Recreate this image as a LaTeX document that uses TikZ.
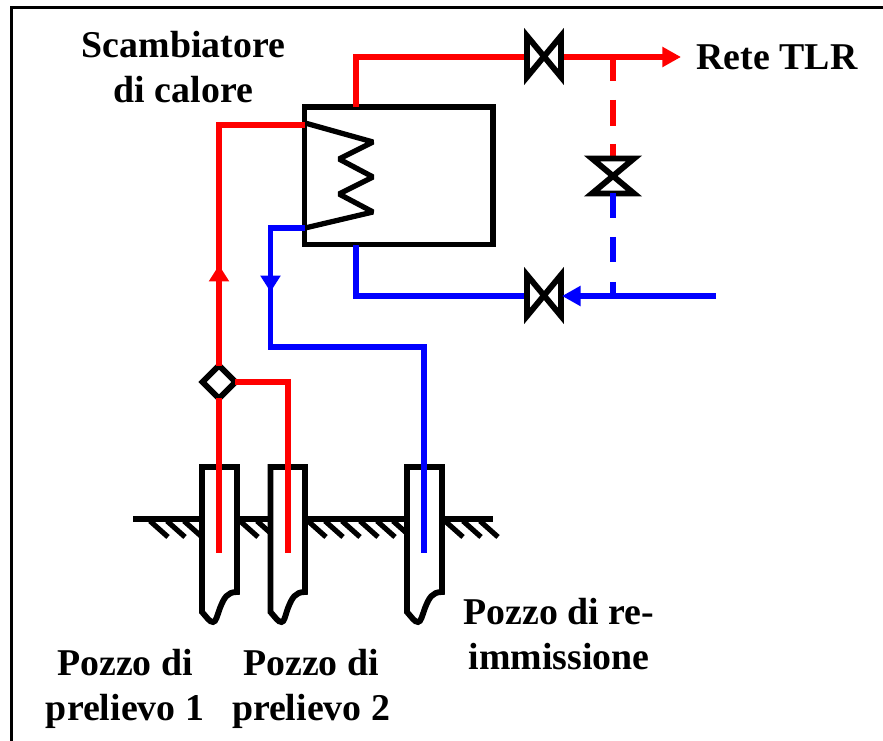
\documentclass[tikz,border=0pt]{standalone}
\usepackage{fontspec}
\setmainfont{Liberation Serif}
\usetikzlibrary{arrows.meta,shapes.geometric}

\begin{document}
\begin{tikzpicture}[
    x=0.03cm, y=-0.03cm,
    % Style for the pipes
    hot/.style={draw=red, line width=5pt, line join=miter},
    cold/.style={draw=blue, line width=5pt, line join=miter},
    % Style for the black outlines
    wall/.style={draw=black, line width=5pt, line join=miter},
    flowtip/.style={-{Triangle[length=#1, width=16.5pt]}},
    lab/.style={font=\bfseries\fontsize{32.3pt}{38.8pt}\selectfont, align=center, inner sep=0pt}
]

\useasboundingbox (0,0) rectangle (883,741);

% Macro to draw a well
\newcommand{\drawwell}[2]{
    \draw[wall, fill=white] (#1,467) -- (#2,467) -- (#2,592) .. controls (#2-10,592) and (#2-13,598) .. (#2-17,608) .. controls (#2-20,616) and (#1+14,622) .. (#1+11,622) .. controls (#1+9,622) and (#1+8,621) .. (#1+6,619) -- (#1,612) -- cycle;
}

% Macro to draw a valve on a horizontal pipe
\newcommand{\drawvalve}[3]{
    \draw[wall, fill=white] (#1,#2) -- (#1,#3) -- (#1+34,#2) -- (#1+34,#3) -- cycle;
}

% Outer frame
\draw[line width=2.6pt] (11.5,741) -- (11.5,7.5) -- (883,7.5);

% Ground
\draw[wall] (133,519) -- (493,519);
\foreach \gx in {150,167,184,240,257,308,325,342,360,377,393,445,463,480}{
    \draw[line width=4.4pt] (\gx,521) -- (\gx+18,537);
}

% Wells
\drawwell{202}{237}
\drawwell{270.5}{305}
\drawwell{407}{442}

% Heat exchanger
\draw[wall] (304.5,107) rectangle (493,244.5);
\draw[wall, line width=4.5pt, line join=bevel] (305,123) -- (373,142) -- (339,159) -- (373,177) -- (339,194) -- (373,212) -- (305,228);

% Named points of the circuit
\coordinate (hotin) at (305,125);
\coordinate (coldout) at (305,228);
\coordinate (hotoutA) at (356,107);
\coordinate (coldinA) at (356,245);
\coordinate (teeA) at (613,57);
\coordinate (teeB) at (613,296);
\coordinate (coldend) at (716,296);
\coordinate (reteend) at (681,57);
\coordinate (vT) at (544,57);
\coordinate (vB) at (544,296);
\coordinate (vM) at (613,176);

% Junction
\node[diamond, draw=black, line width=5pt, fill=white, inner sep=0pt, outer sep=0pt, minimum size=28pt] (junc) at (219,382) {};

% Red circuit
\draw[hot] (219,553) -- (junc);
\draw[hot] (junc) -- (219,125) -- (hotin);
\draw[hot, flowtip=14pt] (219,300) -- (219,265);
\draw[hot] (junc) -- (288,382) -- (288,553);
\draw[hot] (hotoutA) -- (356,57) -- (vT);
\draw[hot, flowtip=16pt] (vT) -- (reteend);
\draw[hot] (teeA) -- (613,81);
\draw[hot] (613,100) -- (613,126);
\draw[hot] (613,144) -- (vM);

% Blue circuit
\draw[cold] (coldout) -- (270.5,228) -- (270.5,347) -- (424,347) -- (424,553);
\draw[cold, flowtip=14pt] (270.5,260) -- (270.5,292);
\draw[cold] (coldinA) -- (356,296) -- (vB);

% Valves
\drawvalve{527}{36}{77}
\drawvalve{527}{275}{316}
\draw[wall, fill=white] (592,158.5) -- (634,158.5) -- (592,193.5) -- (634,193.5) -- cycle;

\draw[cold, flowtip=16pt] (coldend) -- (562,296);
\draw[cold] (613,193) -- (613,218);
\draw[cold] (613,237) -- (613,262);
\draw[cold] (613,282) -- (teeB);

% Labels
\node[lab] (scamb) at (183.5,67) {Scambiatore\\di calore};
\node[lab] (rete) at (777,57) {Rete TLR};
\node[lab] (pz1) at (125,689) {Pozzo di\\prelievo 1};
\node[lab] (pz2) at (311,689) {Pozzo di\\prelievo 2};
\node[lab] (pz3) at (559,634) {Pozzo di re-\\immissione};

\end{tikzpicture}
\end{document}
